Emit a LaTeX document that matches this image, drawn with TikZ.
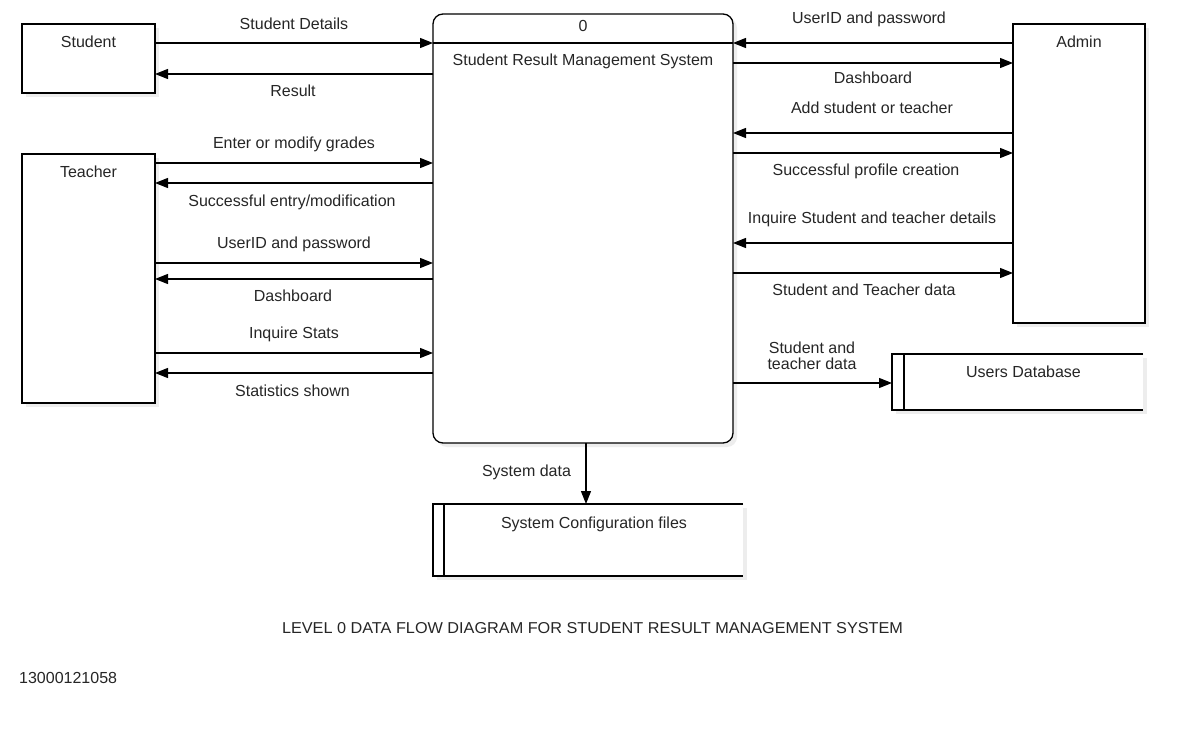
\documentclass[tikz,border=0pt]{standalone}
\usepackage{fontspec}
\setmainfont{Liberation Sans}
\usetikzlibrary{arrows.meta,shadows,calc}
\begin{document}
\begin{tikzpicture}[x=1pt,y=-1pt,
  every node/.style={font=\fontsize{16}{19}\selectfont, text=black!85},
  ent/.style={draw=black, line width=1.3pt, fill=white, rectangle, inner sep=0pt, outer sep=0pt, anchor=north west,
    general shadow={fill=black!7, shadow xshift=4pt, shadow yshift=-4pt}},
  storebox/.style={draw=none, fill=white, rectangle, inner sep=0pt, outer sep=0pt, anchor=north west,
    general shadow={fill=black!7, shadow xshift=4pt, shadow yshift=-4pt}},
  txt/.style={anchor=base, inner sep=0pt},
  arr/.style={draw=black, line width=1.3pt, -{Triangle[length=13pt,width=10pt]}},
  edge/.style={draw=black, line width=1.3pt},
]
\fill[white] (0,0) rectangle (1195,743);
\useasboundingbox (0,0) rectangle (1195,743);

% entities
\node[ent, minimum width=133pt, minimum height=69pt] (student) at (22,24) {};
\node[ent, minimum width=133pt, minimum height=249pt] (teacher) at (22,154) {};
\node[ent, minimum width=132pt, minimum height=299pt] (admin) at (1013,24) {};
\node[ent, rounded corners=10pt, minimum width=300pt, minimum height=429pt] (proc) at (433,14) {};
\draw[edge] (proc.west |- 0,43) -- (proc.east |- 0,43);

% data stores
\node[storebox, minimum width=251pt, minimum height=56pt] (users) at (892,354) {};
\draw[edge] (users.north east) -- (users.north west) -- (users.south west) -- (users.south east);
\draw[edge] ($(users.north west)+(12,0)$) -- ($(users.south west)+(12,0)$);
\node[storebox, minimum width=310pt, minimum height=72pt] (sysconf) at (433,504) {};
\draw[edge] (sysconf.north east) -- (sysconf.north west) -- (sysconf.south west) -- (sysconf.south east);
\draw[edge] ($(sysconf.north west)+(11,0)$) -- ($(sysconf.south west)+(11,0)$);

% box texts
\node[txt] (tstudent) at (88.5,48) {Student};
\node[txt] (tteacher) at (88.5,178) {Teacher};
\node[txt] (tadmin) at (1079,48) {Admin};
\node[txt] (tzero) at (583,32) {0};
\node[txt] (tproc) at (583,66) {Student Result Management System};
\node[txt] (tusers) at (1023.5,378) {Users Database};
\node[txt] (tsys) at (594,528) {System Configuration files};

% left flows
\draw[arr] (student.east |- 0,43) -- (proc.west |- 0,43);
\draw[arr] (proc.west |- 0,74) -- (student.east |- 0,74);
\draw[arr] (teacher.east |- 0,163) -- (proc.west |- 0,163);
\draw[arr] (proc.west |- 0,183) -- (teacher.east |- 0,183);
\draw[arr] (teacher.east |- 0,263) -- (proc.west |- 0,263);
\draw[arr] (proc.west |- 0,279) -- (teacher.east |- 0,279);
\draw[arr] (teacher.east |- 0,353) -- (proc.west |- 0,353);
\draw[arr] (proc.west |- 0,373) -- (teacher.east |- 0,373);

\node[txt] (l1) at (294,30) {Student Details};
\node[txt] (l2) at (293,97) {Result};
\node[txt] (l3) at (294,149) {Enter or modify grades};
\node[txt] (l4) at (292,207) {Successful entry/modification};
\node[txt] (l5) at (294,249) {UserID and password};
\node[txt] (l6) at (293,302) {Dashboard};
\node[txt] (l7) at (294,339) {Inquire Stats};
\node[txt] (l8) at (292.5,397) {Statistics shown};

% right flows
\draw[arr] (admin.west |- 0,43) -- (proc.east |- 0,43);
\draw[arr] (proc.east |- 0,63) -- (admin.west |- 0,63);
\draw[arr] (admin.west |- 0,133) -- (proc.east |- 0,133);
\draw[arr] (proc.east |- 0,153) -- (admin.west |- 0,153);
\draw[arr] (admin.west |- 0,243) -- (proc.east |- 0,243);
\draw[arr] (proc.east |- 0,273) -- (admin.west |- 0,273);
\draw[arr] (proc.east |- 0,383) -- (users.west |- 0,383);

\node[txt] (r1) at (869,24) {UserID and password};
\node[txt] (r2) at (873,84) {Dashboard};
\node[txt] (r3) at (872,114) {Add student or teacher};
\node[txt] (r4) at (866,176) {Successful profile creation};
\node[txt] (r5) at (872,224) {Inquire Student and teacher details};
\node[txt] (r6) at (864,296) {Student and Teacher data};
\node[txt] (r7a) at (812,354) {Student and};
\node[txt] (r7b) at (812,370) {teacher data};

% system data
\draw[arr] (proc.south -| 586,0) -- (sysconf.north -| 586,0);
\node[txt] (sd) at (526.5,476) {System data};

% captions
\node[txt] (cap) at (592.5,633) {\resizebox{621pt}{11pt}{LEVEL 0 DATA FLOW DIAGRAM FOR STUDENT RESULT MANAGEMENT SYSTEM}};
\node[txt, anchor=base west] (num) at (19,683) {13000121058};
\end{tikzpicture}
\end{document}
